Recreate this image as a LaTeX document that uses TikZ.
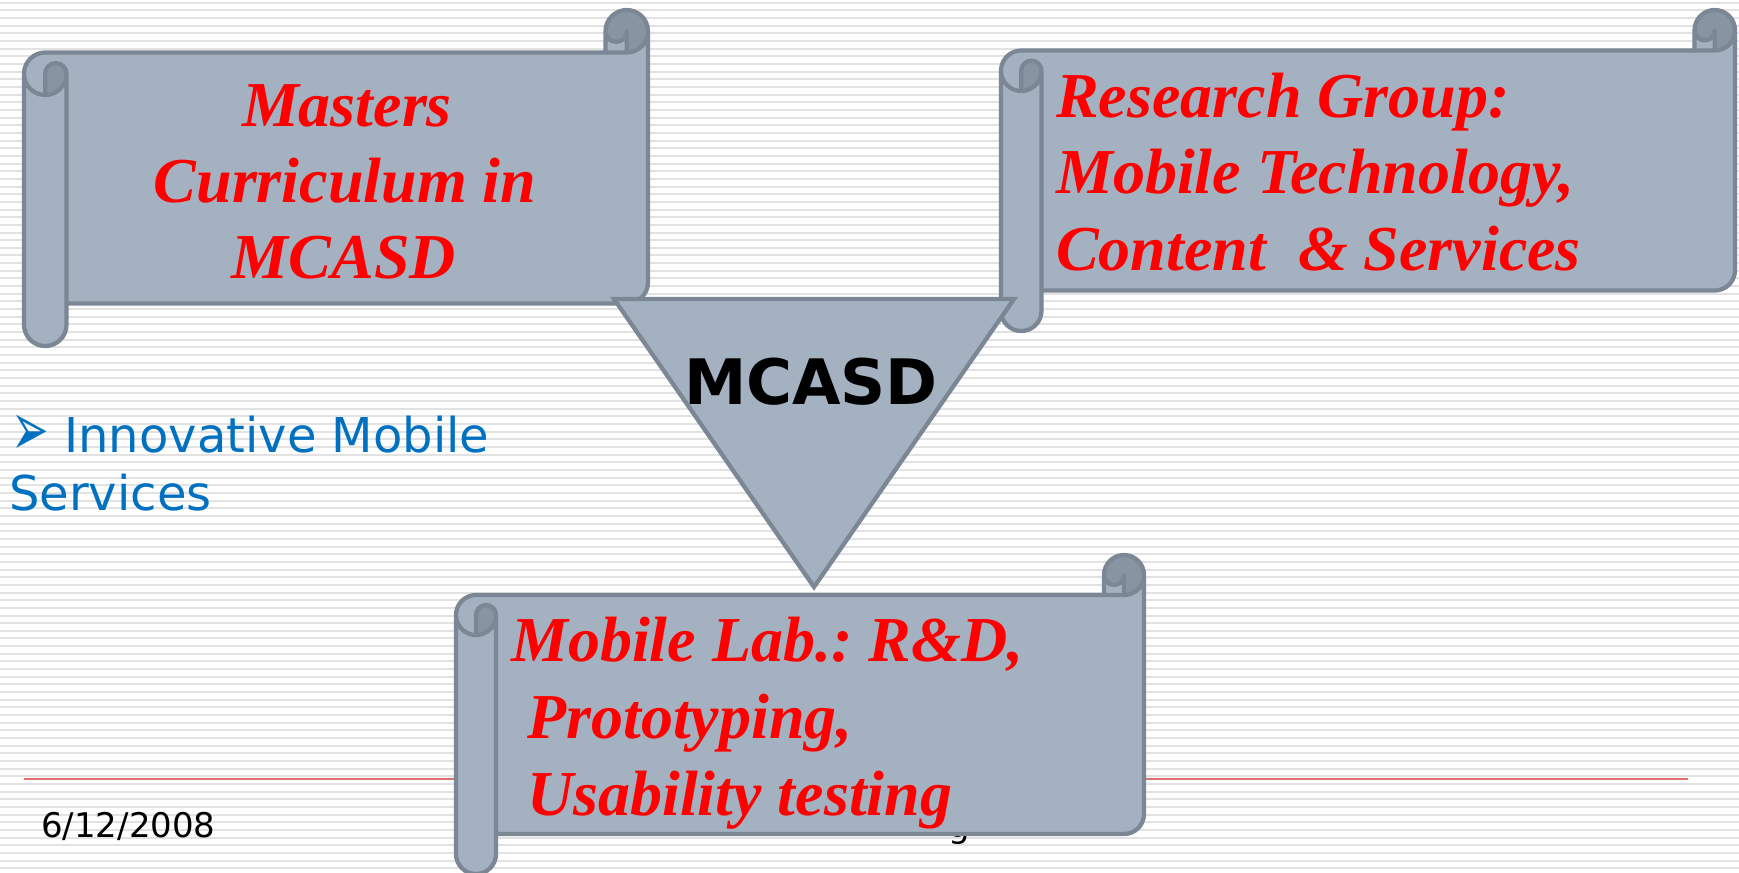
\documentclass[tikz,border=0pt]{standalone}
\usepackage{fontspec}
\setmainfont{Liberation Serif}
\newfontfamily\dejavu{DejaVu Sans}
\frenchspacing
\definecolor{scrollfill}{RGB}{163,177,192}
\definecolor{scrolledge}{RGB}{123,135,148}
\definecolor{scrolldark}{RGB}{136,148,161}
\definecolor{stripegray}{RGB}{226,226,226}
\definecolor{footred}{RGB}{222,112,112}
\definecolor{bulletblue}{RGB}{0,112,192}
\tikzset{
  edge/.style={draw=scrolledge,line width=3.2pt,line join=round},
  scrolltext/.style={text=red,font=\fontsize{48}{57}\selectfont\bfseries\itshape,inner sep=0pt},
  bluetext/.style={text=bulletblue,font=\dejavu\fontsize{36}{43}\selectfont,inner sep=0pt},
  foottext/.style={text=black,font=\dejavu\fontsize{25.5}{30}\selectfont,inner sep=0pt},
  stripe/.style={draw=stripegray,line width=1.5pt}
}
% horizontal scroll: left top right bottom roll
\newcommand\hscroll[5]{%
  \pgfmathsetmacro\sL{#1}\pgfmathsetmacro\sT{#2}\pgfmathsetmacro\sR{#3}%
  \pgfmathsetmacro\sB{#4}\pgfmathsetmacro\sC{#5}%
  \pgfmathsetmacro\sH{\sC/2}\pgfmathsetmacro\sQ{\sC/4}%
  \pgfmathsetmacro\yA{\sT+\sH}\pgfmathsetmacro\yB{\sT+\sC}%
  \pgfmathsetmacro\yC{\sT+1.5*\sC}\pgfmathsetmacro\yD{\sT+2*\sC}%
  \pgfmathsetmacro\yF{\sB-\sC}\pgfmathsetmacro\yG{\sB-\sH}\pgfmathsetmacro\yE{\yF-\sH}%
  \pgfmathsetmacro\xC{\sR-\sC}\pgfmathsetmacro\xD{\sR-\sH}%
  \pgfmathsetmacro\xA{\sL+\sH}\pgfmathsetmacro\xB{\sL+\sC}%
  \fill[scrollfill] (\sR,\yA) arc[start angle=0,delta angle=90,radius=\sH]
    -- (\xD,\yA) arc[start angle=0,delta angle=180,radius=\sQ]
    -- (\xC,\yB) -- (\xA,\yB) arc[start angle=270,delta angle=-90,radius=\sH]
    -- (\sL,\yG) arc[start angle=180,delta angle=-180,radius=\sH]
    -- (\xB,\yF) -- (\xD,\yF) arc[start angle=90,delta angle=-90,radius=\sH] -- cycle;
  \fill[scrolldark] (\xA,\yD) arc[start angle=90,delta angle=-90,radius=\sH]
    arc[start angle=0,delta angle=-180,radius=\sQ] -- cycle
    (\xD,\yB) arc[start angle=90,delta angle=-270,radius=\sH]
    arc[start angle=180,delta angle=-180,radius=\sQ] -- cycle;
  \draw[edge] (\sL,\yC) arc[start angle=180,delta angle=90,radius=\sH]
    -- (\xC,\yB) -- (\xC,\yA) arc[start angle=180,delta angle=180,radius=\sH]
    -- (\sR,\yE) arc[start angle=0,delta angle=90,radius=\sH]
    -- (\xB,\yF) -- (\xB,\yG) arc[start angle=0,delta angle=180,radius=\sH] -- cycle
    (\xC,\yB) -- (\xD,\yB) arc[start angle=90,delta angle=-90,radius=\sH]
    (\xD,\yB) -- (\xD,\yA) arc[start angle=0,delta angle=180,radius=\sQ]
    (\xA,\yD) -- (\xA,\yC) arc[start angle=180,delta angle=180,radius=\sQ]
    arc[start angle=0,delta angle=180,radius=\sH]
    (\xB,\yC) -- (\xB,\yF);
}
\begin{document}
\begin{tikzpicture}[x=0.75pt,y=0.75pt,yscale=-1]
\useasboundingbox (0,0) rectangle (1739,872);
\fill[white] (0,0) rectangle (1739,872);
\foreach \i in {0,...,113} \draw[stripe] (0,2.7+7.66*\i) -- (1739,2.7+7.66*\i);
% footer
\coordinate (fl) at (24,779);
\coordinate (fr) at (1688,779);
\draw[footred,line width=1.6pt] (fl) -- (fr);
\node[foottext,anchor=base west] (date) at (41,837) {6/12/2008};
\node[foottext,anchor=base west] (hidden) at (948,837) {g};
% bullet text
\node[bluetext,anchor=center,font=\dejavu\fontsize{27}{30}\selectfont] (bul) at (30,435) {\scalebox{1.25}[2.1]{➢}};
\node[bluetext,anchor=base west] (b1) at (64,452) {Innovative Mobile};
\node[bluetext,anchor=base west] (b2) at (9,510) {Services};
% scroll 1
\hscroll{24}{10}{648}{346}{42.5}
\node[scrolltext,anchor=base] (m1) at (347,126) {Masters};
\node[scrolltext,anchor=base] (m2) at (345,202) {Curriculum in};
\node[scrolltext,anchor=base] (m3) at (344,278) {MCASD};
% scroll 2
\hscroll{1001}{10}{1735}{331}{40.5}
\node[scrolltext,anchor=base west] (r1) at (1056,117) {Research Group:};
\node[scrolltext,anchor=base west] (r2) at (1056,193) {Mobile Technology,};
\node[scrolltext,anchor=base west] (r3) at (1056,270) {Content\ \ \& Services};
% triangle
\draw[draw=scrolledge,line width=3.2pt,line join=miter,fill=scrollfill] (614,299) -- (1014,299) -- (814,587) -- cycle;
\node[anchor=base,inner sep=0pt,font=\dejavu\bfseries\fontsize{47}{50}\selectfont] (mc) at (811,404) {MCASD};
% scroll 3
\hscroll{456}{555}{1144}{874}{40}
\node[scrolltext,anchor=base west] (l1) at (511,661) {Mobile Lab.: R\&D,};
\node[scrolltext,anchor=base west] (l2) at (511,738) {\ Prototyping,};
\node[scrolltext,anchor=base west] (l3) at (511,815) {\ Usability testing};
\end{tikzpicture}
\end{document}
